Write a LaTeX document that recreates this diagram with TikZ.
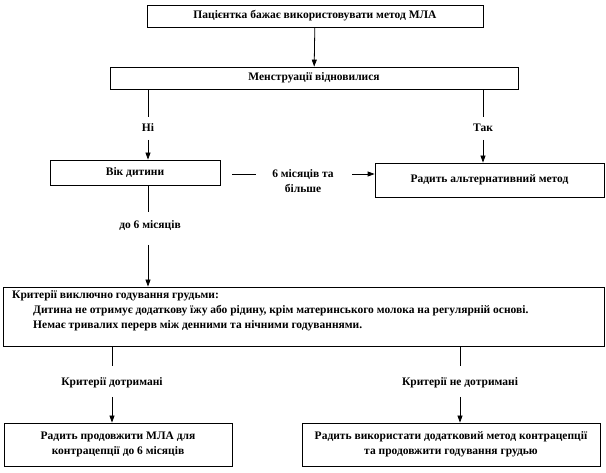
\documentclass[tikz,border=0pt]{standalone}
\usepackage{fontspec}
\setmainfont{Liberation Serif}
\usetikzlibrary{arrows.meta}
\begin{document}
\begin{tikzpicture}[x=1pt,y=-1pt,
  font=\fontsize{11.5}{15}\selectfont\bfseries,
  box/.style={draw, line width=0.8pt, inner sep=0pt, align=center},
  lbl/.style={inner sep=0pt, align=center},
  arr/.style={-{Triangle[width=5pt,length=7pt]}, line width=0.8pt},
  ln/.style={line width=0.8pt}]
\useasboundingbox (0,0) rectangle (606,473);
% boxes
\node[box, minimum width=336pt, minimum height=22pt] (top) at (315,16) {Пацієнтка бажає використовувати метод МЛА};
\node[box, minimum width=408pt, minimum height=22pt] (mens) at (314,78) {Менструації відновилися};
\node[box, minimum width=170pt, minimum height=25pt] (vik) at (135,172.5) {Вік дитини};
\node[box, minimum width=229pt, minimum height=34pt] (alt) at (489.5,180) {Радить альтернативний метод};
\node[box, minimum width=601pt, minimum height=59pt] (crit) at (303.5,316.5) {};
\node[lbl, anchor=north west, align=left] (crittext) at (12,290) {Критерії виключно годування грудьми:\\
\hspace*{21pt}Дитина  не отримує додаткову їжу або рідину, крім материнського молока на регулярній основі.\\
\hspace*{21pt}Немає тривалих перерв між денними  та нічними  годуваннями.};
\node[box, minimum width=228pt, minimum height=43pt] (yes) at (118,444.5) {Радить продовжити МЛА для\\контрацепції  до 6 місяців};
\node[box, minimum width=298pt, minimum height=43pt] (no) at (451,444.5) {Радить використати додатковий  метод  контрацепції\\та продовжити годування грудью};
% labels
\node[lbl] (ni) at (148,128) {Ні};
\node[lbl] (tak) at (483,128) {Так};
\node[lbl] (six) at (303,181.5) {6 місяців та\\більше};
\node[lbl] (to6) at (150,226) {до 6 місяців};
\node[lbl] (ok) at (112,383) {Критерії дотримані};
\node[lbl] (nok) at (460,383) {Критерії не дотримані};
% gap ends
\coordinate (a1) at (148,117);
\coordinate (a2) at (148,140);
\coordinate (b1) at (483,117);
\coordinate (b2) at (483,140);
\coordinate (c1) at (232,174);
\coordinate (c2) at (256,174);
\coordinate (c3) at (352,174);
\coordinate (d1) at (148,212);
\coordinate (d2) at (148,245);
\coordinate (e1) at (112,366);
\coordinate (e2) at (112,397);
\coordinate (f1) at (460,366);
\coordinate (f2) at (460,397);
% connectors
\draw[arr] (top) -- (mens);
\draw[ln] (mens.south -| a1) -- (a1);
\draw[arr] (a2) -- (vik.north -| a2);
\draw[ln] (mens.south -| b1) -- (b1);
\draw[arr] (b2) -- (alt.north -| b2);
\draw[ln] (c1) -- (c2);
\draw[arr] (c3) -- (alt.west |- c3);
\draw[ln] (vik.south -| d1) -- (d1);
\draw[arr] (d2) -- (crit.north -| d2);
\draw[ln] (crit.south -| e1) -- (e1);
\draw[arr] (e2) -- (yes.north -| e2);
\draw[ln] (crit.south -| f1) -- (f1);
\draw[arr] (f2) -- (no.north -| f2);
\end{tikzpicture}
\end{document}
